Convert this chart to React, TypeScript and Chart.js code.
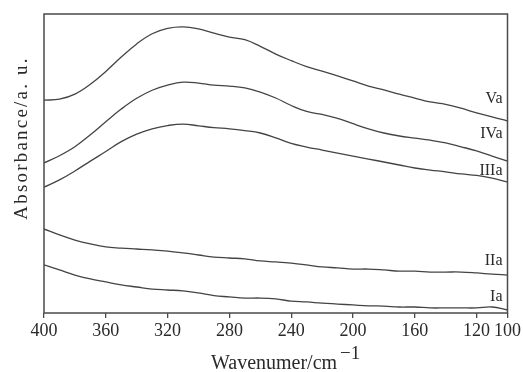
import React, { useEffect, useRef } from "react";
import { Chart, registerables } from "chart.js";

Chart.register(...registerables);

const wavenumbers = [400, 390, 380, 370, 360, 350, 340, 330, 320, 310, 300, 290, 280, 270, 260, 250, 240, 230, 220, 210, 200, 190, 180, 170, 160, 150, 140, 130, 120, 110, 100];

const seriesVa = [71.2, 71.5, 73.2, 76.5, 80.8, 85.6, 90.0, 93.4, 95.2, 95.7, 95.0, 93.6, 92.3, 91.4, 89.2, 86.6, 84.4, 82.4, 80.9, 79.3, 77.6, 75.9, 74.6, 73.2, 71.9, 70.6, 69.8, 68.5, 66.9, 65.6, 64.2];
const seriesIVa = [50.2, 52.6, 55.6, 59.6, 64.0, 68.2, 71.8, 74.5, 76.2, 77.2, 76.9, 76.2, 75.9, 75.3, 73.9, 71.9, 69.4, 67.4, 66.4, 65.1, 63.3, 61.6, 60.2, 59.2, 58.5, 57.8, 56.9, 55.6, 54.2, 52.5, 50.8];
const seriesIIIa = [42.1, 44.5, 47.5, 50.8, 54.0, 57.3, 59.8, 61.6, 62.7, 63.2, 62.6, 62.0, 61.6, 61.0, 60.2, 58.6, 56.7, 55.5, 54.5, 53.5, 52.5, 51.5, 50.5, 49.5, 48.5, 47.8, 47.2, 46.5, 46.0, 45.1, 43.8];
const seriesIIa = [28.1, 26.1, 24.4, 23.1, 22.1, 21.7, 21.4, 21.1, 20.7, 20.1, 19.4, 18.7, 18.4, 18.1, 17.4, 17.1, 16.7, 16.1, 15.4, 15.1, 14.7, 14.7, 14.4, 14.0, 14.0, 13.7, 13.7, 13.7, 13.4, 13.0, 12.7];
const seriesIa = [16.1, 14.4, 12.7, 11.4, 10.4, 9.4, 8.7, 8.0, 7.7, 7.4, 6.7, 5.8, 5.4, 5.0, 5.0, 4.7, 4.0, 3.7, 3.3, 3.0, 2.7, 2.4, 2.3, 2.0, 2.0, 1.7, 1.7, 1.7, 1.7, 2.0, 1.0];

const seriesNames = ["Va", "IVa", "IIIa", "IIa", "Ia"];
const seriesLabelY = [71.6, 59.9, 47.5, 17.4, 5.4];
const xTicks = [400, 360, 320, 280, 240, 200, 160, 120, 100];

const xTitle = "Wavenumer/cm";
const xTitleSup = "\u22121";
const yTitle = "Absorbance/a. u.";

const FONT = "'Liberation Serif', 'Times New Roman', serif";
const LINE = "#444444";
const AXIS = "#4a4a4a";
const TEXT = "#2a2a2a";

export default function App() {
  const ref = useRef<HTMLCanvasElement | null>(null);

  useEffect(() => {
    if (!ref.current) return;
    const allSeries = [seriesVa, seriesIVa, seriesIIIa, seriesIIa, seriesIa];
    const datasets = allSeries.map((s, i) => ({
      label: seriesNames[i],
      data: wavenumbers.map((w, j) => ({ x: w, y: s[j] })),
      borderColor: LINE,
      borderWidth: 1.3,
      pointRadius: 0,
      tension: 0.4,
      fill: false,
    }));

    const decor = {
      id: "decor",
      afterDraw(chart: any) {
        const ctx = chart.ctx;
        const a = chart.chartArea;
        const ys = chart.scales.y;
        ctx.save();
        ctx.strokeStyle = AXIS;
        ctx.lineWidth = 1.5;
        ctx.strokeRect(a.left, a.top, a.right - a.left, a.bottom - a.top);

        ctx.fillStyle = TEXT;
        ctx.font = `16px ${FONT}`;
        ctx.textAlign = "right";
        ctx.textBaseline = "middle";
        seriesNames.forEach((n, i) => {
          ctx.fillText(n, a.right - 5, ys.getPixelForValue(seriesLabelY[i]));
        });

        ctx.textBaseline = "alphabetic";
        ctx.textAlign = "left";
        ctx.font = `20px ${FONT}`;
        ctx.fillText(xTitle, 211, 369);
        ctx.font = `19px ${FONT}`;
        ctx.fillText(xTitleSup, 340, 359);

        ctx.translate(27, 138);
        ctx.rotate(-Math.PI / 2);
        ctx.textAlign = "center";
        ctx.font = `19px ${FONT}`;
        (ctx as any).letterSpacing = "2.2px";
        ctx.fillText(yTitle, 0, 0);
        ctx.restore();
      },
    };

    const chart = new Chart(ref.current, {
      type: "line",
      data: { datasets },
      options: {
        animation: false,
        responsive: false,
        layout: { padding: { left: 0, top: 14, right: 15, bottom: 0 } },
        plugins: { legend: { display: false }, tooltip: { enabled: false } },
        scales: {
          x: {
            type: "linear",
            reverse: true,
            min: 100,
            max: 400,
            afterBuildTicks: (s: any) => {
              s.ticks = xTicks.map((v) => ({ value: v }));
            },
            afterFit: (s: any) => {
              s.height = 59;
            },
            ticks: {
              autoSkip: false,
              maxRotation: 0,
              padding: 2,
              color: TEXT,
              font: { family: FONT, size: 18 },
            },
            grid: { drawOnChartArea: false, drawTicks: true, tickLength: 5, color: AXIS, lineWidth: 1.3 },
            border: { display: false },
          },
          y: {
            type: "linear",
            min: 0,
            max: 100,
            afterFit: (s: any) => {
              s.width = 44;
            },
            ticks: { display: false },
            grid: { display: false },
            border: { display: false },
          },
        },
      },
      plugins: [decor],
    } as any);
    return () => chart.destroy();
  }, []);

  return (
    <div style={{ position: "absolute", left: 0, top: 0, width: 523, height: 372, background: "#fff" }}>
      <canvas ref={ref} width={523} height={372} style={{ width: 523, height: 372 }} />
    </div>
  );
}
